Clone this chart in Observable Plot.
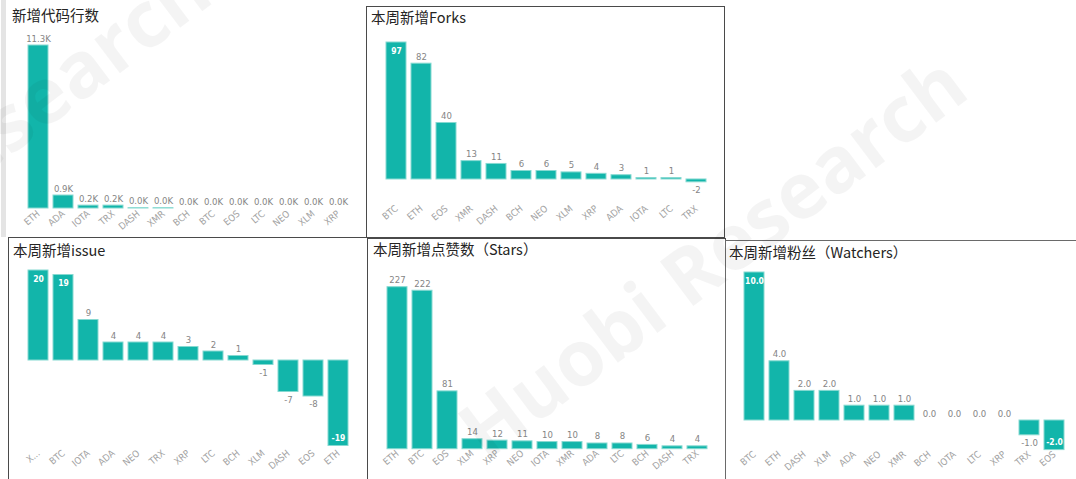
<!DOCTYPE html>
<html><head><meta charset="utf-8">
<script src="https://cdn.jsdelivr.net/npm/d3@7"></script>
<script src="https://cdn.jsdelivr.net/npm/@observablehq/plot@0.6"></script>
<style>
html,body{margin:0;padding:0;background:#fff;}
body{width:1076px;height:479px;overflow:hidden;position:relative;font-family:"Noto Sans CJK SC","Noto Sans",sans-serif;}
.box{position:absolute;box-sizing:border-box;}
.title{position:absolute;font-size:14.5px;color:#252423;white-space:nowrap;line-height:1;}
.plot{position:absolute;}
.wm{position:absolute;white-space:nowrap;font-family:"Open Sans",sans-serif;font-weight:700;font-size:78px;line-height:1;color:rgba(0,0,0,0.045);transform:translate(-50%,-50%) rotate(-37deg);pointer-events:none;}
</style></head><body>
<script>
// ---- data ----
const codeCats = ["ETH","ADA","IOTA","TRX","DASH","XMR","BCH","BTC","EOS","LTC","NEO","XLM","XRP"];
const codeVals = [11300, 900, 200, 200, 20, 20, 0, 0, 0, 0, 0, 0, 0];

const forksCats = ["BTC","ETH","EOS","XMR","DASH","BCH","NEO","XLM","XRP","ADA","IOTA","LTC","TRX"];
const forksVals = [97, 82, 40, 13, 11, 6, 6, 5, 4, 3, 1, 1, -2];

const issueCats = ["X...","BTC","IOTA","ADA","NEO","TRX","XRP","LTC","BCH","XLM","DASH","EOS","ETH"];
const issueVals = [20, 19, 9, 4, 4, 4, 3, 2, 1, -1, -7, -8, -19];

const starsCats = ["ETH","BTC","EOS","XLM","XRP","NEO","IOTA","XMR","ADA","LTC","BCH","DASH","TRX"];
const starsVals = [227, 222, 81, 14, 12, 11, 10, 10, 8, 8, 6, 4, 4];

const watchCats = ["BTC","ETH","DASH","XLM","ADA","NEO","XMR","BCH","IOTA","LTC","XRP","TRX","EOS"];
const watchVals = [10, 4, 2, 2, 1, 1, 1, 0, 0, 0, 0, -1, -2];

const titles = ["新增代码行数","本周新增Forks","本周新增issue","本周新增点赞数（Stars）","本周新增粉丝（Watchers）"];
const watermark = "Huobi Research";

// ---- layout ----
const BAR = "#12b5aa", BAR_EDGE = "#86d9d1";
const NUMFONT = "'Liberation Sans Narrow','DejaVu Sans Condensed',sans-serif";

function addDiv(cls, css, text) {
  const d = document.createElement("div");
  d.className = cls;
  Object.assign(d.style, css);
  if (text != null) d.textContent = text;
  document.body.appendChild(d);
  return d;
}

// frames
addDiv("box", {left:"1px", top:"0px", width:"5px", height:"237px", background:"#e4e4e4"});
addDiv("box", {left:"366px", top:"6px", width:"359px", height:"232px", border:"1px solid #4a4a4a"});
addDiv("box", {left:"8px", top:"237px", width:"360px", height:"260px", border:"1px solid #4a4a4a"});
addDiv("box", {left:"367px", top:"238px", width:"359px", height:"260px", border:"1px solid #4a4a4a"});
addDiv("box", {left:"725px", top:"240px", width:"380px", height:"260px", border:"1px solid #6a6a6a"});

function panel(cfg, cats, vals, title, fmt) {
  const data = cats.map((c, i) => ({c, v: vals[i]}));
  const ymin = Math.min(0, d3.min(vals)), ymax = d3.max(vals);
  const ys = d3.scaleLinear([ymin, ymax], [cfg.h - cfg.mB, cfg.mT]);
  const TOP = 26, BOT = cfg.h - 28;
  const outside = d => d.v >= 0 ? ys(d.v) - 14 >= TOP : ys(d.v) + 14 <= BOT;
  const outPos = data.filter(d => d.v >= 0 && outside(d));
  const outNeg = data.filter(d => d.v < 0 && outside(d));
  const inPos = data.filter(d => d.v >= 0 && !outside(d));
  const inNeg = data.filter(d => d.v < 0 && !outside(d));
  const common = {x: "c", y: "v", text: d => fmt(d.v), fontSize: 9.5, fontFamily: NUMFONT};
  const inner = {...common, fontSize: 8.5, fill: "#ffffff", fontWeight: "bold", letterSpacing: "-0.3px"};
  const plot = Plot.plot({
    width: cfg.w, height: cfg.h,
    marginLeft: cfg.mL, marginRight: cfg.mR, marginTop: cfg.mT, marginBottom: cfg.mB,
    x: {domain: cats, paddingInner: 0.22, paddingOuter: 0.22, label: null},
    y: {domain: [ymin, ymax], axis: null, label: null},
    style: {background: "transparent", color: "#a3a3a3", fontFamily: NUMFONT, overflow: "visible"},
    marks: [
      Plot.barY(data.filter(d => d.v !== 0), {x: "c", y: "v", fill: BAR, stroke: BAR_EDGE, strokeWidth: 1}),
      Plot.axisX({tickRotate: -40, tickSize: 0, tickPadding: cfg.tp, fontSize: 9.5, label: null}),
      Plot.text(outPos, {...common, dy: -4, lineAnchor: "bottom", fill: "#858585"}),
      Plot.text(outNeg, {...common, dy: 4, lineAnchor: "top", fill: "#858585"}),
      Plot.text(inPos, {...inner, dy: 5, lineAnchor: "top"}),
      Plot.text(inNeg, {...inner, dy: -5, lineAnchor: "bottom"})
    ]
  });
  plot.classList.add("plot");
  plot.style.left = cfg.left + "px";
  plot.style.top = cfg.top + "px";
  document.body.appendChild(plot);
  addDiv("title", {left: cfg.tx + "px", top: cfg.ty + "px"}, title);
}

const fmtK = v => (v / 1000).toFixed(1) + "K";
const fmtI = v => String(v);
const fmt1 = v => v.toFixed(1);

panel({left: 0, top: 0, w: 366, h: 237, mL: 17, mR: 8, mT: 45, mB: 29, tp: 4, tx: 12, ty: 8}, codeCats, codeVals, titles[0], fmtK);
panel({left: 366, top: 6, w: 358, h: 230, mL: 10.4, mR: 9.4, mT: 36, mB: 54.2, tp: 25, tx: 371, ty: 10}, forksCats, forksVals, titles[1], fmtI);
panel({left: 8, top: 237, w: 358, h: 242, mL: 9.3, mR: 8.3, mT: 33, mB: 33.5, tp: 6, tx: 13, ty: 243}, issueCats, issueVals, titles[2], fmtI);
panel({left: 367, top: 238, w: 358, h: 241, mL: 10.1, mR: 9.4, mT: 48.7, mB: 30.3, tp: 3, tx: 373, ty: 242}, starsCats, starsVals, titles[3], fmtI);
panel({left: 725, top: 240, w: 351, h: 239, mL: 9.3, mR: 2.3, mT: 32, mB: 29.4, tp: 3, tx: 729, ty: 245}, watchCats, watchVals, titles[4], fmt1);

// watermark
addDiv("wm", {left: "711px", top: "255px"}, watermark);
addDiv("wm", {left: "-45px", top: "160px"}, watermark);
</script>
</body></html>
